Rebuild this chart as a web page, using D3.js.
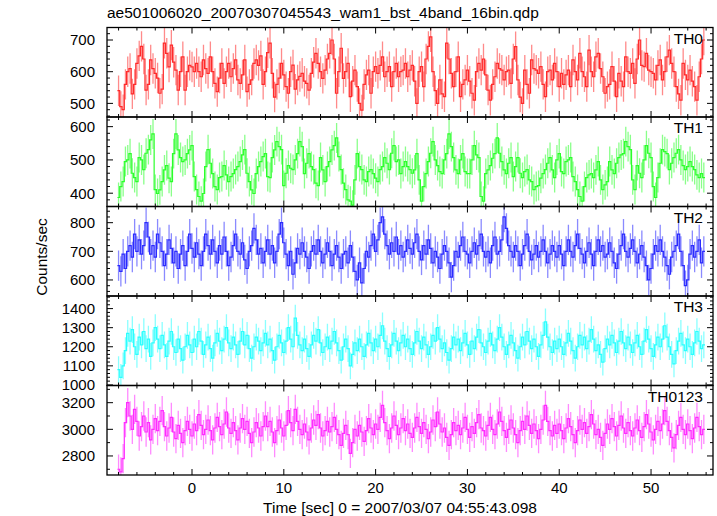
<!DOCTYPE html>
<html><head><meta charset="utf-8">
<script src="https://cdn.jsdelivr.net/npm/d3@7/dist/d3.min.js"></script>
<style>
body{margin:0;background:#fff}
text{font-family:"Liberation Sans",Arial,Helvetica,sans-serif;fill:#000}
</style>
</head><body>
<svg id="chart" width="717" height="516"></svg>
<script>
const titleText = "ae501006020_20070307045543_wam1_bst_4band_16bin.qdp";
const xLabelText = "Time [sec] 0 = 2007/03/07 04:55:43.098";
const yLabelText = "Counts/sec";
const panelNames = ["TH0","TH1","TH2","TH3","TH0123"];
const tStart = -8, binSize = 0.25;

const th0 = [540,490,480,560,600,610,530,560,626,650,680,640,542,560,637,610,595,580,532,545,690,658,615,684,630,605,542,600,647,542,600,620,615,600,626,600,584,637,610,595,647,600,563,537,580,626,563,600,626,584,610,637,574,563,590,637,537,560,574,626,637,620,
650,560,600,660,690,595,520,560,580,626,590,553,532,600,621,545,574,585,595,570,563,542,595,630,658,626,600,579,605,640,658,700,640,532,600,674,579,600,626,521,570,605,553,500,479,560,590,605,532,600,616,595,620,647,584,600,616,553,600,626,584,600,605,626,584,605,
620,570,500,600,616,553,640,680,710,600,540,500,574,530,521,690,640,595,553,600,647,521,560,574,605,570,532,510,600,626,605,640,590,542,510,560,584,626,610,605,574,600,605,563,640,679,574,520,500,605,560,532,637,610,605,595,616,560,521,600,605,574,626,600,553,595,
560,590,605,553,637,600,574,658,600,584,553,668,600,584,647,658,610,584,532,553,560,616,570,521,595,570,553,647,600,595,626,563,640,700,620,616,658,605,600,595,574,620,637,574,600,647,668,626,600,553,530,510,626,590,574,605,570,553,510,584,640,700];

const th1 = [387,420,435,495,500,519,460,447,435,507,500,471,520,531,560,578,411,399,410,435,470,483,445,435,519,578,530,507,495,500,519,530,543,450,411,390,376,399,480,531,490,459,420,411,447,450,483,455,435,450,459,471,480,495,515,531,460,435,410,399,459,480,495,510,
519,450,447,507,530,555,540,531,423,460,483,475,471,500,519,555,540,459,490,519,480,471,430,423,507,470,435,480,495,530,543,566,510,471,430,411,380,376,364,440,519,480,471,440,435,465,471,459,445,435,471,480,507,490,471,520,543,495,500,459,480,495,480,471,
460,470,519,440,376,420,459,495,520,555,500,483,465,459,500,519,578,540,507,470,459,500,519,465,459,459,500,543,515,507,390,376,459,470,483,505,519,566,520,495,470,459,490,507,450,480,507,460,447,465,471,440,435,411,420,423,445,459,471,490,507,470,447,500,
519,465,459,495,500,507,450,435,411,390,376,420,447,455,459,447,470,495,440,411,425,435,495,470,459,490,507,515,519,555,540,531,440,411,483,460,447,500,543,520,507,420,387,447,490,531,525,519,471,490,507,520,531,500,483,471,480,495,480,471,455,447,459,447];

const th2 = [650,630,690,640,700,720,680,760,700,740,690,720,800,750,690,720,680,760,730,700,650,690,740,710,660,700,640,690,720,650,700,760,
710,680,730,690,650,700,760,720,690,740,700,660,720,690,750,700,650,680,720,760,700,690,730,670,640,700,720,780,740,690,710,660,
700,740,690,720,660,700,760,800,730,690,650,700,620,660,710,690,730,700,680,640,700,720,690,740,700,660,690,730,700,650,690,720,
680,640,690,700,660,720,680,630,600,660,590,640,700,680,720,760,700,740,800,820,760,720,690,730,700,750,690,720,680,700,740,710,
690,730,760,700,670,720,690,740,710,660,700,680,640,690,720,700,660,610,650,700,680,720,750,700,690,660,700,730,690,720,760,700,
680,700,660,720,750,690,700,740,820,780,720,700,680,720,700,650,690,720,760,700,670,690,720,680,700,740,700,660,690,720,700,680,
720,690,650,700,740,700,680,720,760,710,690,660,700,730,690,650,700,740,700,720,680,690,730,700,660,640,690,720,760,700,680,710,
740,700,660,690,720,680,650,600,640,690,720,700,740,700,680,650,620,680,700,720,760,700,650,580,600,690,720,680,700,740,660,700];

const th3 = [1080,1040,1100,1180,1270,1230,1290,1200,1160,1250,1210,1280,1190,1240,1150,1220,1300,1240,1190,1260,1210,1150,1230,1280,1200,1170,1240,1190,1130,1200,1260,1210,
1170,1240,1200,1280,1230,1160,1210,1250,1190,1140,1220,1270,1230,1180,1240,1300,1220,1190,1250,1210,1160,1230,1280,1210,1260,1190,1140,1200,1250,1230,1180,1220,
1270,1210,1240,1180,1130,1200,1260,1220,1170,1230,1300,1240,1200,1350,1260,1210,1180,1240,1190,1150,1210,1260,1230,1290,1220,1170,1200,1250,1190,1230,1280,1220,
1180,1130,1200,1240,1190,1100,1160,1220,1180,1240,1200,1150,1210,1270,1220,1180,1240,1200,1260,1310,1230,1190,1150,1210,1270,1230,1180,1220,1260,1200,1240,1190,
1160,1220,1280,1230,1190,1250,1210,1160,1200,1260,1230,1300,1240,1190,1220,1170,1130,1190,1250,1210,1240,1180,1220,1270,1210,1160,1230,1190,1250,1290,1220,1200,
1170,1230,1270,1210,1180,1240,1300,1250,1200,1160,1210,1260,1220,1180,1140,1200,1250,1210,1280,1230,1190,1240,1200,1150,1210,1260,1330,1250,1200,1170,1230,1190,
1240,1200,1160,1220,1270,1230,1180,1140,1200,1260,1210,1250,1190,1230,1290,1240,1180,1210,1160,1120,1190,1240,1210,1260,1220,1170,1230,1280,1220,1190,1250,1210,
1170,1220,1260,1200,1160,1230,1290,1240,1190,1150,1210,1250,1200,1240,1310,1250,1200,1160,1110,1180,1230,1270,1210,1180,1240,1200,1160,1220,1280,1230,1190,1210];

const th0123 = [2700,2680,2780,3050,3200,3100,3000,3150,3060,2950,3020,3100,2980,3050,2920,3000,3080,2990,3060,3140,3020,2950,3010,3090,2980,2930,3030,2970,2900,2990,3060,3000,
2950,3040,2990,3110,3030,2960,3000,3070,2990,2920,3010,3090,3020,2960,3040,3130,3010,2970,3050,2990,2920,3010,3080,3000,3060,2970,2900,2980,3050,3010,2950,3020,
3100,3020,3060,2980,2900,2990,3070,3010,2950,3030,3140,3050,2990,3150,3060,3000,2960,3040,2980,2920,3010,3070,3030,3110,3010,2950,2990,3060,2980,3020,3090,3000,
2960,2880,2970,3030,2960,2820,2900,3000,2950,3030,2980,2910,2990,3080,3010,2960,3040,3000,3090,3180,3050,2990,2930,3010,3100,3030,2960,3010,3080,2990,3040,2970,
2940,3010,3090,3020,2970,3050,3000,2930,2980,3070,3020,3130,3040,2980,3010,2940,2880,2960,3050,2990,3030,2960,3010,3090,3000,2940,3020,2970,3050,3110,3010,2990,
2950,3030,3090,3000,2960,3040,3130,3060,2990,2940,3000,3070,3010,2960,2900,2990,3060,3000,3100,3030,2970,3040,2990,2930,3000,3070,3180,3060,2990,2950,3030,2970,
3040,2990,2930,3010,3080,3020,2960,2900,2990,3070,3000,3050,2970,3020,3110,3040,2960,3000,2940,2880,2970,3040,3000,3080,3020,2950,3030,3100,3010,2970,3050,2990,
2950,3010,3070,2990,2940,3020,3110,3040,2980,2920,3000,3060,2990,3040,3140,3060,2990,2940,2860,2960,3030,3090,3000,2960,3040,2990,2930,3010,3090,3020,2960,3000];

const seriesValues = [th0, th1, th2, th3, th0123];
const typicalErrors = [48, 45, 53, 70, 110];
const yDomains = [[457,739.5],[360,629],[544,856.5],[997,1466],[2657,3329]];
const yMajorTicks = [[500,600,700],[400,500,600],[600,700,800],[1000,1100,1200,1300,1400],[2800,3000,3200]];
const yMinorSteps = [20,20,20,20,100];
const xDomain = [-9.26, 56.75];
const xMajorTicks = [0,10,20,30,40,50];
const xMinorStep = 2;
const colors = ["#ff2a2a","#2aff2a","#2a2aff","#2affff","#ff2aff"];

const plotLeft = 107, plotRight = 713, plotTop = 27.5, plotBottom = 475;
const nP = 5, pH = (plotBottom - plotTop) / nP;
const svg = d3.select("#chart");
const x = d3.scaleLinear().domain(xDomain).range([plotLeft, plotRight]);

const xMinorTicks = d3.range(Math.ceil(xDomain[0]/xMinorStep)*xMinorStep, xDomain[1], xMinorStep);
const majLen = 6, minLen = 3;

seriesValues.forEach((vals, p) => {
  const top = plotTop + p * pH, bot = top + pH;
  const y = d3.scaleLinear().domain(yDomains[p]).range([bot, top]);
  const g = svg.append("g");
  const clipId = "clip" + p;
  svg.append("clipPath").attr("id", clipId).append("rect")
    .attr("x", plotLeft).attr("y", top).attr("width", plotRight - plotLeft).attr("height", pH);
  const dg = g.append("g").attr("clip-path", `url(#${clipId})`).attr("fill", "none");
  const err = typicalErrors[p];
  const pts = vals.map((v, i) => ({t: tStart + i * binSize, v}));
  dg.append("g").attr("stroke", colors[p]).attr("stroke-opacity", 0.55).attr("stroke-width", 1.3)
    .selectAll("line").data(pts).enter().append("line")
    .attr("x1", d => x(d.t)).attr("x2", d => x(d.t))
    .attr("y1", d => y(d.v - err)).attr("y2", d => y(d.v + err));
  const stepPts = [];
  pts.forEach(d => { stepPts.push([d.t - binSize/2, d.v]); stepPts.push([d.t + binSize/2, d.v]); });
  dg.append("path").datum(stepPts)
    .attr("d", d3.line().x(d => x(d[0])).y(d => y(d[1])))
    .attr("stroke", colors[p]).attr("stroke-width", 1.2);

  g.append("rect").attr("x", plotLeft).attr("y", top).attr("width", plotRight - plotLeft).attr("height", pH)
    .attr("fill", "none").attr("stroke", "#000").attr("stroke-width", 1.3);

  const tg = g.append("g").attr("stroke", "#000").attr("stroke-width", 1);
  const yMinor = d3.range(Math.ceil(yDomains[p][0]/yMinorSteps[p])*yMinorSteps[p], yDomains[p][1], yMinorSteps[p]);
  yMinor.forEach(v => {
    const len = yMajorTicks[p].includes(v) ? majLen : minLen;
    tg.append("line").attr("x1", plotLeft).attr("x2", plotLeft + len).attr("y1", y(v)).attr("y2", y(v));
    tg.append("line").attr("x1", plotRight).attr("x2", plotRight - len).attr("y1", y(v)).attr("y2", y(v));
  });
  xMinorTicks.forEach(t => {
    const len = xMajorTicks.includes(t) ? majLen : minLen;
    tg.append("line").attr("x1", x(t)).attr("x2", x(t)).attr("y1", top).attr("y2", top + len);
    tg.append("line").attr("x1", x(t)).attr("x2", x(t)).attr("y1", bot).attr("y2", bot - len);
  });
  g.selectAll("text.yl").data(yMajorTicks[p]).enter().append("text")
    .attr("x", plotLeft - 12).attr("y", d => y(d)).attr("dy", "0.36em")
    .attr("text-anchor", "end").attr("font-size", 15).text(d => d);
  g.append("text").attr("x", 703).attr("y", top + 16).attr("text-anchor", "end")
    .attr("font-size", 15.5).text(panelNames[p]);
});

svg.selectAll("text.xl").data(xMajorTicks).enter().append("text")
  .attr("x", d => x(d)).attr("y", 493).attr("text-anchor", "middle").attr("font-size", 15).text(d => d);
svg.append("text").attr("x", 400).attr("y", 513).attr("text-anchor", "middle").attr("font-size", 15.5).text(xLabelText);
svg.append("text").attr("x", 107).attr("y", 18).attr("font-size", 15.5).text(titleText);
svg.append("text").attr("transform", "translate(47,257) rotate(-90)").attr("text-anchor", "middle")
  .attr("font-size", 15.5).text(yLabelText);
</script>
</body></html>
